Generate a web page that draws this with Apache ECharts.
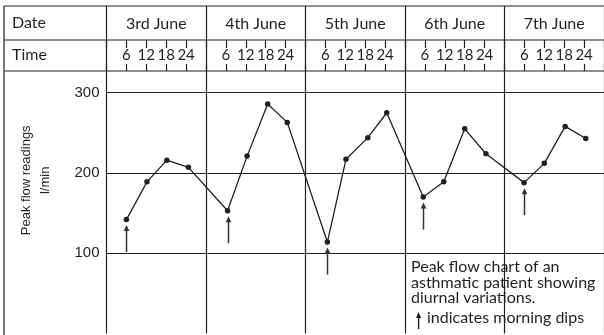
<!DOCTYPE html>
<html>
<head>
<meta charset="utf-8">
<script src="https://cdn.jsdelivr.net/npm/echarts@6/dist/echarts.min.js"></script>
<style>
  html, body { margin: 0; padding: 0; background: #fff; }
  #chart { width: 604px; height: 335px; }
</style>
</head>
<body>
<div id="chart"></div>
<script>
// Peak flow diary: five days, four readings a day
const days = ['3rd June', '4th June', '5th June', '6th June', '7th June'];
const timeTicks = [6, 12, 18, 24];
// hour of each reading within its day
const readingHours = [
  [6.0, 12.2, 18.2, 24.7],
  [6.5, 12.4, 18.6, 24.5],
  [6.6, 12.2, 18.8, 24.5],
  [5.5, 11.7, 18.0, 24.4],
  [5.9, 12.0, 18.3, 24.5]
];
// peak flow readings, l/min
const peakFlow = [
  [142, 189, 216, 207],
  [153, 221, 286, 263],
  [114, 217, 244, 275],
  [170, 189, 255, 224],
  [188, 212, 258, 243]
];
const yTicks = [100, 200, 300];
const captionLines = ['Peak flow chart of an', 'asthmatic patient showing', 'diurnal variations.'];
const captionKey = 'indicates morning dips';

// each day column spans 30 chart-hours (a 24 h day plus spacing)
const DAY_SPAN = 30;
const X_MAX = DAY_SPAN * days.length;

const ink = '#231f20';
const rule = { color: ink, width: 1.2 };
const headFont = 'Lato, "Open Sans", sans-serif';
const axisFont = '"Liberation Sans", Arial, sans-serif';

const points = [];
const dips = [];
days.forEach((d, i) => {
  readingHours[i].forEach((h, k) => {
    const pt = [i * DAY_SPAN + h, peakFlow[i][k]];
    points.push(pt);
    if (k === 0) dips.push(pt);
  });
});

// table layout
const LEFT = 106.5, RIGHT = -5;
const ROW_TOP = 6, ROW_TIME = 40, ROW_PLOT = 71;
const TICK_UP = 8, TICK_DOWN = 7;
const TABLE_X = 4;

const chart = echarts.init(document.getElementById('chart'), null, { renderer: 'canvas' });

const hidden = { show: false };
const hourTicks = { show: true, lineStyle: rule };

chart.setOption({
  animation: false,
  backgroundColor: '#fff',
  grid: [
    // header block: date row + time row
    { left: LEFT, right: RIGHT, top: ROW_TOP, height: ROW_PLOT - ROW_TOP },
    // short hour ticks hanging from the top of the time row
    { left: LEFT, right: RIGHT, top: ROW_TIME, height: TICK_UP },
    // short hour ticks standing on the bottom of the time row
    { left: LEFT, right: RIGHT, top: ROW_PLOT - TICK_DOWN, height: TICK_DOWN },
    // readings
    { left: LEFT, right: RIGHT, top: ROW_PLOT, bottom: 1.4 }
  ],
  xAxis: [
    { // day names and day dividers through the header
      type: 'category', gridIndex: 0, data: days, position: 'top',
      axisLine: hidden, axisTick: hidden,
      axisLabel: { inside: true, margin: 10, fontFamily: headFont, fontSize: 16, color: ink },
      splitLine: { show: true, lineStyle: rule }
    },
    { // upper hour ticks
      type: 'value', gridIndex: 1, min: 0, max: X_MAX, interval: 6,
      axisLine: hidden, axisTick: hidden, axisLabel: hidden,
      splitLine: hourTicks
    },
    { // lower hour ticks and hour labels
      type: 'value', gridIndex: 2, min: 0, max: X_MAX, interval: 6, position: 'top',
      axisLine: hidden, axisTick: hidden,
      axisLabel: {
        margin: 1, fontFamily: headFont, fontSize: 15, color: ink,
        showMinLabel: false, showMaxLabel: false,
        formatter: v => {
          const h = Math.round(v % DAY_SPAN);
          return timeTicks.includes(h) ? String(h) : '';
        }
      },
      splitLine: hourTicks
    },
    { // readings: day dividers
      type: 'value', gridIndex: 3, min: 0, max: X_MAX, interval: DAY_SPAN,
      axisLine: hidden, axisTick: hidden, axisLabel: hidden,
      splitLine: { show: true, lineStyle: rule }
    }
  ],
  yAxis: [
    { type: 'value', gridIndex: 0, show: false },
    { type: 'value', gridIndex: 1, show: false },
    { type: 'value', gridIndex: 2, show: false },
    {
      type: 'value', gridIndex: 3, min: 0, max: 327, interval: 100,
      axisLine: hidden, axisTick: hidden,
      axisLabel: {
        margin: 7, fontFamily: axisFont, fontSize: 15, color: ink,
        formatter: v => (yTicks.includes(v) ? String(v) : '')
      },
      splitLine: { show: true, showMinLine: false, showMaxLine: false, lineStyle: rule },
      name: 'Peak flow readings\nl/min',
      nameLocation: 'middle', nameRotate: 90, nameGap: 52,
      nameTextStyle: {
        fontFamily: axisFont, fontSize: 13, color: ink, lineHeight: 19, align: 'center',
        padding: [0, 0, 0, 44]
      }
    }
  ],
  series: [
    {
      type: 'line', xAxisIndex: 3, yAxisIndex: 3, data: points,
      symbol: 'circle', symbolSize: 5.5,
      lineStyle: { color: ink, width: 1.3 },
      itemStyle: { color: ink },
      z: 5
    },
    {
      // morning-dip arrows under the first reading of each day
      type: 'custom', xAxisIndex: 3, yAxisIndex: 3, data: dips, z: 4,
      renderItem: (params, api) => {
        const p = api.coord([api.value(0), api.value(1)]);
        const x = Math.round(p[0]) + 0.5;
        const tip = p[1] + 5.5;
        const tail = tip + 27;
        return {
          type: 'group',
          children: [
            { type: 'line', shape: { x1: x, y1: tip + 4, x2: x, y2: tail },
              style: { stroke: '#333', lineWidth: 1.5 } },
            { type: 'polygon', shape: { points: [[x, tip], [x - 2.8, tip + 6], [x + 2.8, tip + 6]] },
              style: { fill: '#333' } }
          ]
        };
      }
    }
  ],
  graphic: [
    // table rules
    { type: 'line', shape: { x1: TABLE_X, y1: ROW_TOP, x2: 604, y2: ROW_TOP }, style: { stroke: ink, lineWidth: 1.2 } },
    { type: 'line', shape: { x1: TABLE_X, y1: ROW_TIME, x2: 604, y2: ROW_TIME }, style: { stroke: ink, lineWidth: 1.2 } },
    { type: 'line', shape: { x1: TABLE_X, y1: ROW_PLOT, x2: 604, y2: ROW_PLOT }, style: { stroke: ink, lineWidth: 1.2 } },
    { type: 'line', shape: { x1: TABLE_X, y1: ROW_TOP, x2: TABLE_X, y2: 335 }, style: { stroke: ink, lineWidth: 1.2 } },
    // row headings
    { type: 'text', left: 12, top: 15, style: { text: 'Date', font: '16px ' + headFont, fill: ink } },
    { type: 'text', left: 12, top: 47, style: { text: 'Time', font: '16px ' + headFont, fill: ink } },
    // caption
    {
      type: 'text', left: 411, top: 259,
      style: { text: captionLines.join('\n'), font: '16px ' + headFont, fill: ink, lineHeight: 15.5 }
    },
    {
      type: 'text', left: 427, top: 310,
      style: { text: captionKey, font: '16px ' + headFont, fill: ink }
    },
    {
      type: 'group', left: 416, top: 312,
      children: [
        { type: 'line', shape: { x1: 3, y1: 4, x2: 3, y2: 17 }, style: { stroke: ink, lineWidth: 1.4 } },
        { type: 'polygon', shape: { points: [[3, 0], [0.4, 6], [5.6, 6]] }, style: { fill: ink } }
      ]
    }
  ]
});
</script>
</body>
</html>
